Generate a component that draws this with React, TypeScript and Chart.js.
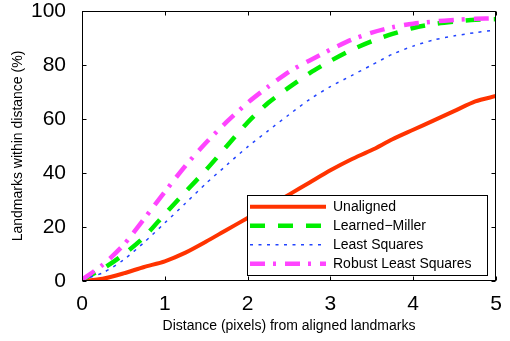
import React, { useEffect, useRef } from 'react';
import { Chart, registerables } from 'chart.js';

Chart.register(...registerables);

const xs = [0, 0.25, 0.5, 0.75, 1, 1.25, 1.5, 1.75, 2, 2.25, 2.5, 2.75, 3, 3.25, 3.5, 3.75, 4, 4.25, 4.5, 4.75, 5];
const unaligned = [0, 0.8, 2.8, 5.2, 7.3, 10.5, 14.6, 19, 23.3, 27.5, 32, 36.5, 41, 45, 48.5, 52.5, 56, 59.5, 63, 66.5, 68.5];
const learnedMiller = [0.5, 4.5, 9.8, 16.3, 24.8, 33, 41.2, 50, 58.7, 66, 71.7, 77, 81.5, 85.5, 88.8, 91.5, 93.7, 95.2, 96.1, 96.8, 97];
const leastSquares = [0.5, 3, 7.8, 14.3, 21.5, 28.8, 36.2, 43, 49.7, 55.7, 61.6, 67.3, 72, 76, 80, 84, 87, 89.3, 90.8, 92, 93];
const robustLeastSquares = [0.5, 6, 13.3, 23, 33, 42.7, 51.3, 59, 66, 72, 77.5, 81.7, 85.7, 89.3, 92, 94, 95.3, 96.1, 96.7, 97.1, 97.3];
const seriesNames = ['Unaligned', 'Learned\u2212Miller', 'Least Squares', 'Robust Least Squares'];
const xTicks = [0, 1, 2, 3, 4, 5];
const yTicks = [0, 20, 40, 60, 80, 100];

const FONT = '"Liberation Sans", Arial, Helvetica, sans-serif';

const styles = [
  { color: '#ff3300', width: 4, dash: [] as number[] },
  { color: '#00ee00', width: 4.5, dash: [15, 13] },
  { color: '#2244ff', width: 1.5, dash: [3, 5.5] },
  { color: '#ff44ff', width: 4.5, dash: [15, 8, 3, 9] },
];

const framePlugin = {
  id: 'frame',
  afterDatasetsDraw(chart: any) {
    const { ctx, chartArea: a, scales } = chart;
    ctx.save();
    ctx.strokeStyle = '#000';
    ctx.lineWidth = 1;
    const L = Math.round(a.left) + 0.5;
    const R = Math.round(a.right) - 0.5;
    const T = Math.round(a.top) + 0.5;
    const B = Math.round(a.bottom) - 0.5;
    ctx.strokeRect(L, T, R - L, B - T);
    const tl = 4;
    ctx.beginPath();
    xTicks.forEach((v) => {
      const px = Math.round(scales.x.getPixelForValue(v)) + 0.5;
      ctx.moveTo(px, B); ctx.lineTo(px, B - tl);
      ctx.moveTo(px, T); ctx.lineTo(px, T + tl);
    });
    yTicks.forEach((v) => {
      const py = Math.round(scales.y.getPixelForValue(v)) + 0.5;
      ctx.moveTo(L, py); ctx.lineTo(L + tl, py);
      ctx.moveTo(R, py); ctx.lineTo(R - tl, py);
    });
    ctx.stroke();
    ctx.restore();
  },
};

const legendPlugin = {
  id: 'customLegend',
  afterDraw(chart: any) {
    const { ctx, chartArea: a } = chart;
    const right = Math.round(a.right) - 9;
    const bottom = Math.round(a.bottom) - 6;
    const w = 240;
    const h = 80;
    const left = right - w;
    const top = bottom - h;
    ctx.save();
    ctx.fillStyle = '#fff';
    ctx.fillRect(left, top, w, h);
    ctx.strokeStyle = '#000';
    ctx.lineWidth = 1;
    ctx.strokeRect(left + 0.5, top + 0.5, w, h);
    ctx.font = `14px ${FONT}`;
    ctx.textBaseline = 'middle';
    ctx.textAlign = 'left';
    seriesNames.forEach((name, i) => {
      const y = top + 11.7 + i * 19;
      const s = styles[i];
      ctx.beginPath();
      ctx.strokeStyle = s.color;
      ctx.lineWidth = s.width;
      ctx.setLineDash(s.dash);
      ctx.moveTo(left + 3, y);
      ctx.lineTo(left + 79, y);
      ctx.stroke();
      ctx.setLineDash([]);
      ctx.fillStyle = '#000';
      ctx.fillText(name, left + 86, y);
    });
    ctx.restore();
  },
};

export default function App() {
  const ref = useRef<HTMLCanvasElement | null>(null);
  useEffect(() => {
    document.body.style.margin = '0';
    const seriesData = [unaligned, learnedMiller, leastSquares, robustLeastSquares];
    const chart = new Chart(ref.current as HTMLCanvasElement, {
      type: 'line',
      data: {
        datasets: seriesData.map((arr, i) => ({
          label: seriesNames[i],
          data: xs.map((x, j) => ({ x, y: arr[j] })),
          borderColor: styles[i].color,
          borderWidth: styles[i].width,
          borderDash: styles[i].dash,
          pointRadius: 0,
          fill: false,
          tension: 0.25,
          order: 4 - i,
        })),
      },
      options: {
        responsive: false,
        animation: false,
        layout: { padding: { top: 11, right: 14, left: 0, bottom: 0 } },
        plugins: { legend: { display: false }, tooltip: { enabled: false } },
        scales: {
          x: {
            type: 'linear',
            min: 0,
            max: 5,
            afterBuildTicks: (s: any) => { s.ticks = xTicks.map((v) => ({ value: v })); },
            ticks: { color: '#000', font: { size: 21, family: FONT, lineHeight: 1 }, padding: 5, maxRotation: 0 },
            grid: { display: false },
            border: { display: false },
            title: { display: true, text: 'Distance (pixels) from aligned landmarks', color: '#000', font: { size: 14, family: FONT }, padding: { top: 0, bottom: 6 } },
            afterFit: (s: any) => { s.height = 60; s.paddingLeft = 0; s.paddingRight = 0; },
          },
          y: {
            type: 'linear',
            min: 0,
            max: 100,
            afterBuildTicks: (s: any) => { s.ticks = yTicks.map((v) => ({ value: v })); },
            ticks: { color: '#000', font: { size: 21, family: FONT, lineHeight: 1 }, padding: 8 },
            grid: { display: false },
            border: { display: false },
            title: { display: true, text: 'Landmarks within distance (%)', color: '#000', font: { size: 14, family: FONT }, padding: { top: 10, bottom: 0 } },
            afterFit: (s: any) => { s.width = 82; s.paddingTop = 0; s.paddingBottom = 0; },
          },
        },
      },
      plugins: [framePlugin, legendPlugin],
    });
    return () => chart.destroy();
  }, []);
  return <canvas ref={ref} width={510} height={341} style={{ display: 'block' }} />;
}
